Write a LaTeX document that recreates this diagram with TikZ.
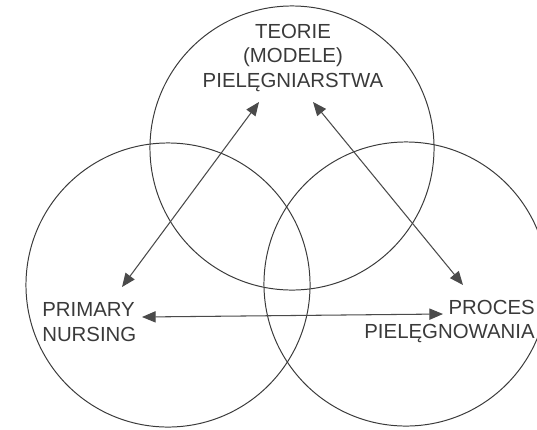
\documentclass[tikz,border=0pt]{standalone}
\usepackage{fontspec}
\usepackage{tikz}
\usetikzlibrary{arrows.meta}
\newfontfamily\labelfont{Liberation Sans}
\definecolor{inkgray}{HTML}{3A3A3A}
\definecolor{arrowgray}{HTML}{4A4A4A}

\begin{document}
\begin{tikzpicture}[x=0.025cm, y=-0.025cm,
  ring/.style={draw=inkgray, line width=0.7pt, circle, inner sep=0pt, minimum size=7.1cm},
  caption/.style={inner sep=0pt, text=inkgray, font=\labelfont\fontsize{14.5}{17.4}\selectfont},
  link/.style={draw=arrowgray, line width=0.75pt,
    {Triangle[length=0.34cm, width=0.28cm]}-{Triangle[length=0.34cm, width=0.28cm]}}]
  \useasboundingbox (0,0) rectangle (537,429);
  % circles
  \node[ring] (theory) at (292,148) {};
  \node[ring] (primary) at (168,285) {};
  \node[ring] (process) at (406,284) {};
  % texts
  \node[caption, align=center, anchor=north] (theorytext) at (293,24)
    {TEORIE\\(MODELE)\\PIELĘGNIARSTWA};
  \node[caption, align=left, anchor=north west] (primarytext) at (42,302.5)
    {PRIMARY\\NURSING};
  \node[caption, align=right, anchor=north east] (processtext) at (535,299.5)
    {PROCES\\PIELĘGNOWANIA};
  % arrow ends
  \coordinate (t1) at (259,102);
  \coordinate (t2) at (313,102);
  \coordinate (p1) at (122,287);
  \coordinate (p2) at (142,317);
  \coordinate (r1) at (463,285);
  \coordinate (r2) at (443,314);
  \draw[link] (p1) -- (t1);
  \draw[link] (t2) -- (r1);
  \draw[link] (p2) -- (r2);
\end{tikzpicture}
\end{document}
